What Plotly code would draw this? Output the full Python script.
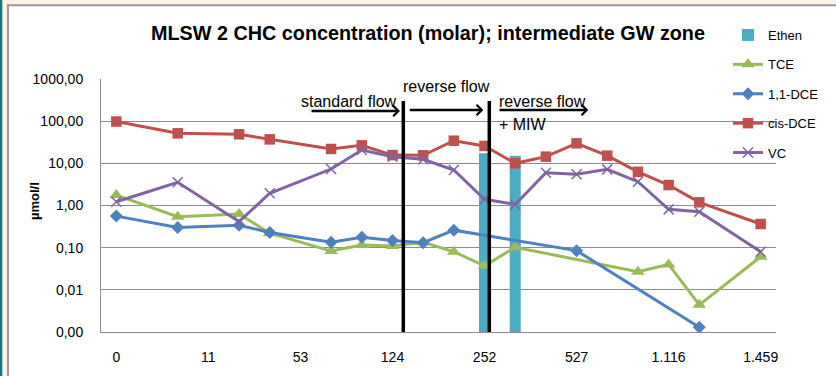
import plotly.graph_objects as go

# Sampling slots along the category axis (22 slots, every third one labelled)
n_slots = 22
tick_pos = [0, 3, 6, 9, 12, 15, 18, 21]
tick_text = ["0", "11", "53", "124", "252", "527", "1.116", "1.459"]

# Concentrations in µmol/l per slot (None = not measured)
ethen = [None] * 12 + [17.3, 15.2] + [None] * 8

tce = [1.77, None, 0.54, None, 0.63, 0.22, None, 0.083, 0.116, 0.109, 0.135,
       0.080, 0.037, 0.102, None, None, None, 0.027, 0.040, 0.0044, None, 0.061]

dce11 = [0.56, None, 0.30, None, 0.34, 0.23, None, 0.134, 0.176, 0.147, 0.131,
         0.26, None, None, None, 0.085, None, None, None, 0.0013, None, None]

cis_dce = [98, None, 51.5, None, 48.8, 37, None, 21.9, 26.7, 15.7, 15.5,
           34.4, 25.8, 10.0, 14.4, 29.8, 15.2, 6.3, 3.06, 1.19, None, 0.364]

vc = [1.23, None, 3.55, None, 0.413, 1.95, None, 7.33, 20.7, 14.4, 12.5,
      6.95, 1.4, 1.06, 6.0, 5.5, 7.2, 3.67, 0.81, 0.71, None, 0.080]

y_ticks = [0.001, 0.01, 0.1, 1, 10, 100, 1000]
y_tick_text = ["0,00", "0,01", "0,10", "1,00", "10,00", "100,00", "1000,00"]

FONT = "Liberation Sans"
W, H = 836, 376
L, R, T, B = 101, 776, 79, 332  # plot area in pixels
BEIGE = "#FDF2E5"
FRAME = "#9a9a9a"


def px_x(p):
    return (p - L) / (R - L)


def px_y(p):
    return (B - p) / (B - T)


slots = list(range(n_slots))
fig = go.Figure()

fig.add_trace(go.Bar(
    x=slots, y=ethen, name="Ethen", width=0.36,
    marker=dict(color="#4BACC6", line=dict(width=0)),
    legendgroup="g1",
))

line_series = [
    ("TCE", tce, "#9BBB59", dict(symbol="triangle-up", size=12)),
    ("1,1-DCE", dce11, "#4F81BD", dict(symbol="diamond", size=10)),
    ("cis-DCE", cis_dce, "#C0504D", dict(symbol="square", size=10.5)),
    ("VC", vc, "#8064A2", dict(symbol="x-thin", size=10,
                               line=dict(width=1.5, color="#8064A2"))),
]
for i, (name, vals, color, mk) in enumerate(line_series):
    fig.add_trace(go.Scatter(
        x=slots, y=vals, name=name, mode="lines+markers",
        connectgaps=True, line=dict(color=color, width=3),
        marker=dict(color=color, **mk), legendgroup=f"g{i + 2}",
    ))

shapes = [
    # window frame around the chart: beige margins, grey edge, teal strip
    dict(type="rect", xref="paper", yref="paper", layer="below",
         x0=px_x(-5), x1=px_x(845), y0=px_y(5.3), y1=px_y(-5),
         fillcolor=BEIGE, line=dict(width=0)),
    dict(type="rect", xref="paper", yref="paper", layer="below",
         x0=px_x(-5), x1=px_x(8), y0=px_y(385), y1=px_y(-5),
         fillcolor=BEIGE, line=dict(width=0)),
    dict(type="line", xref="paper", yref="paper", layer="below",
         x0=px_x(7), x1=px_x(845), y0=px_y(5.3), y1=px_y(5.3),
         line=dict(color=FRAME, width=2)),
    dict(type="line", xref="paper", yref="paper", layer="below",
         x0=px_x(8), x1=px_x(8), y0=px_y(385), y1=px_y(4.3),
         line=dict(color=FRAME, width=2)),
    dict(type="rect", xref="paper", yref="paper", layer="below",
         x0=px_x(-5), x1=px_x(2.3), y0=px_y(385), y1=px_y(-5),
         fillcolor="#137B7E", line=dict(width=0)),
    # phase separators
    dict(type="line", xref="paper", yref="paper",
         x0=px_x(403.3), x1=px_x(403.3), y0=0, y1=px_y(101),
         line=dict(color="black", width=3.5)),
    dict(type="line", xref="paper", yref="paper",
         x0=px_x(489.3), x1=px_x(489.3), y0=0, y1=px_y(101),
         line=dict(color="black", width=3.5)),
]

annotations = [
    dict(text="<b>µmol/l</b>", xref="paper", yref="paper", x=px_x(25),
         y=px_y(201.5), textangle=-90, showarrow=False,
         font=dict(family=FONT, size=13, color="black")),
    dict(text="standard flow", xref="paper", yref="paper", x=px_x(399),
         y=px_y(101.7), xanchor="right", yanchor="middle", showarrow=False,
         font=dict(family=FONT, size=16, color="black")),
    dict(text="reverse flow", xref="paper", yref="paper", x=px_x(400.5),
         y=px_y(86.7), xanchor="left", yanchor="middle", showarrow=False,
         font=dict(family=FONT, size=16, color="black")),
    dict(text="reverse flow", xref="paper", yref="paper", x=px_x(497),
         y=px_y(101.7), xanchor="left", yanchor="middle", showarrow=False,
         font=dict(family=FONT, size=16, color="black")),
    dict(text="+ MIW", xref="paper", yref="paper", x=px_x(497),
         y=px_y(124), xanchor="left", yanchor="middle", showarrow=False,
         font=dict(family=FONT, size=16, color="black")),
]

# flow direction arrows: (tail px, head px, y px)
for tail, head, yy in [(310, 400, 111), (408.3, 483.3, 110), (498, 588.3, 110)]:
    annotations.append(dict(
        text="", xref="paper", yref="paper", x=px_x(head), y=px_y(yy),
        ax=-(head - tail), ay=0, showarrow=True, arrowhead=4,
        arrowsize=0.8, arrowwidth=2.5, arrowcolor="black",
    ))

fig.update_layout(
    width=W, height=H,
    margin=dict(l=L, r=W - R, t=T, b=H - B, pad=0),
    paper_bgcolor="white", plot_bgcolor="white",
    font=dict(family=FONT, size=14, color="black"),
    title=dict(text="<b>MLSW 2 CHC concentration (molar); intermediate GW zone</b>",
               x=428 / W, y=1 - 33 / H, xanchor="center", yanchor="middle",
               font=dict(family=FONT, size=19.8, color="black")),
    barmode="overlay",
    showlegend=True,
    legend=dict(x=px_x(728), y=px_y(20), xanchor="left", yanchor="top",
                bgcolor="rgba(0,0,0,0)", traceorder="grouped",
                tracegroupgap=9.5, itemwidth=30,
                font=dict(family=FONT, size=13, color="black")),
    xaxis=dict(range=[-0.5, n_slots - 0.5], tickvals=tick_pos,
               ticktext=tick_text, showgrid=False, zeroline=False,
               showline=True, linecolor="#8c8c8c", linewidth=1,
               ticks="", ticklabelstandoff=12,
               tickfont=dict(family=FONT, size=14, color="black")),
    yaxis=dict(type="log", range=[-3, 3], tickvals=y_ticks,
               ticktext=y_tick_text, showgrid=True, gridcolor="#8c8c8c",
               gridwidth=1, zeroline=False, showline=True,
               linecolor="#8c8c8c", linewidth=1, ticks="",
               ticklabelstandoff=14,
               tickfont=dict(family=FONT, size=14, color="black")),
    shapes=shapes,
    annotations=annotations,
)

fig.write_html("out.html")
